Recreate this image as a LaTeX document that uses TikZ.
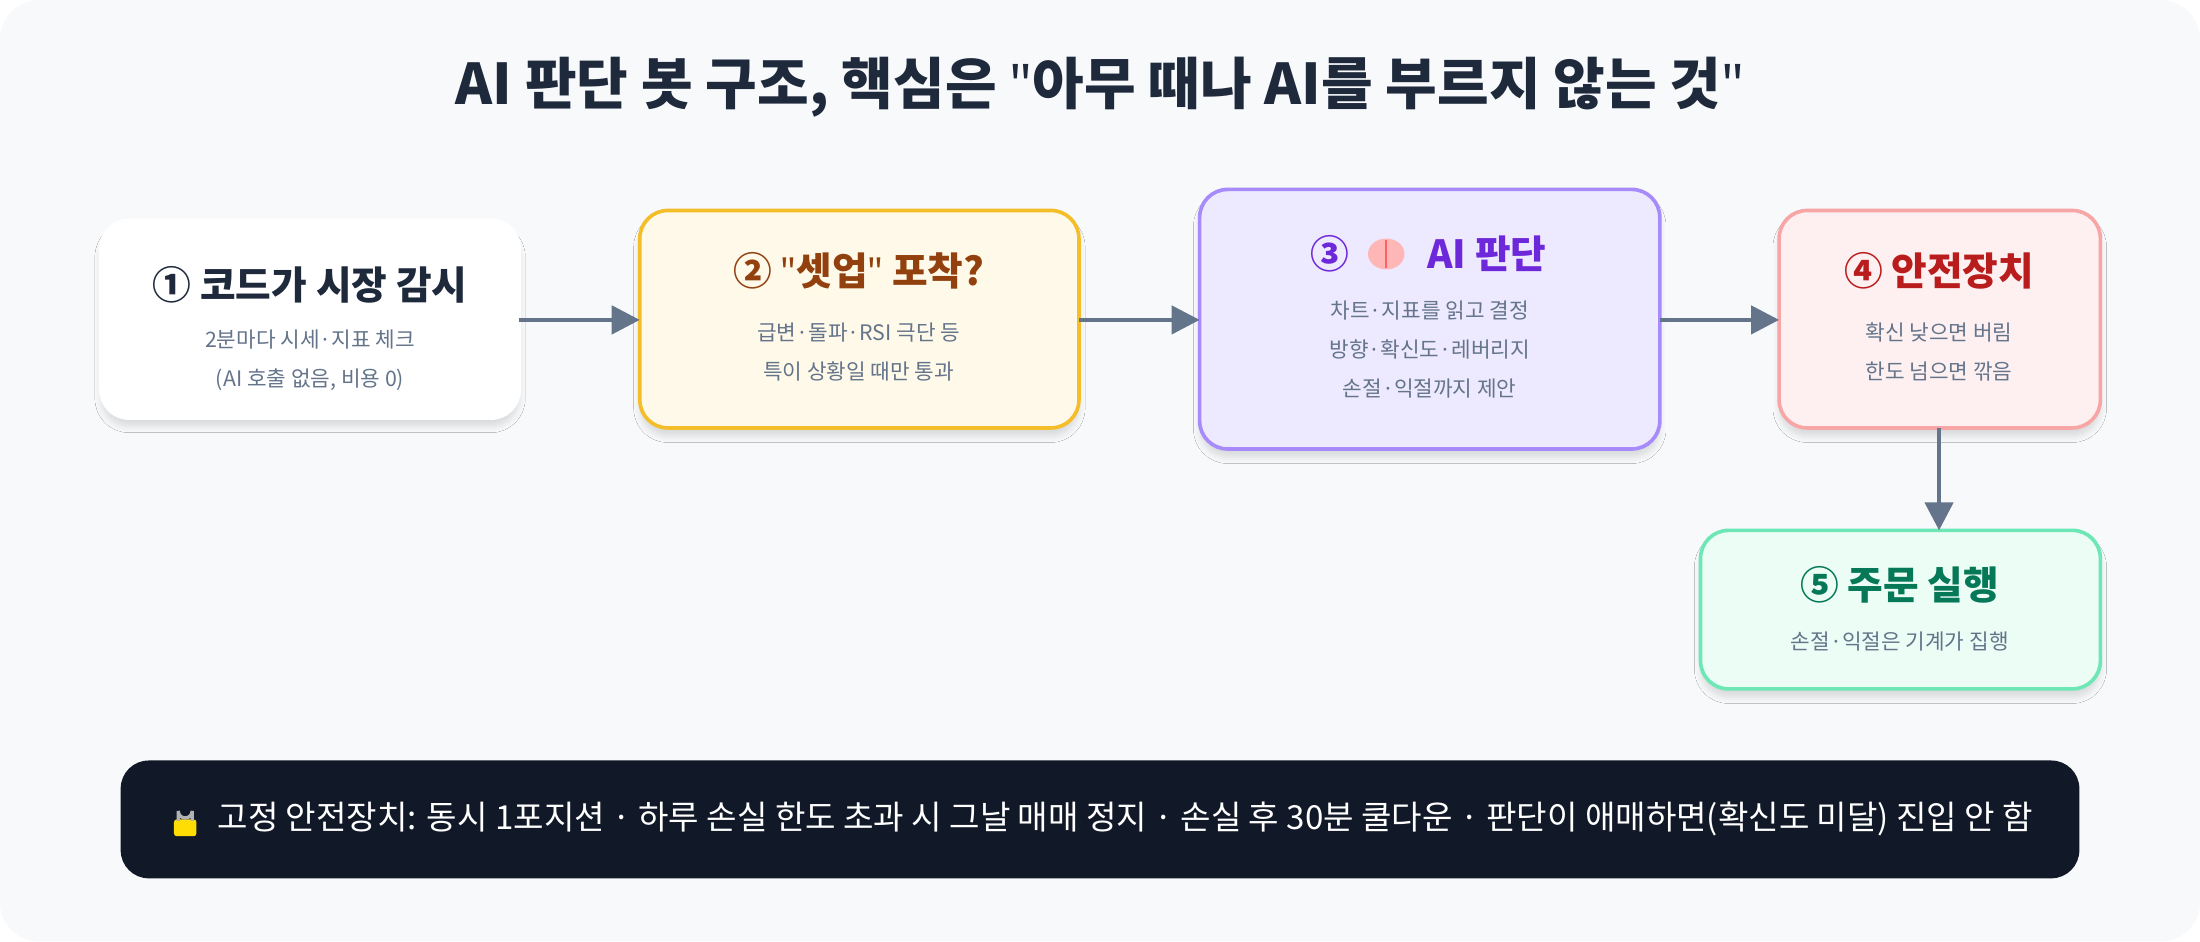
\documentclass[tikz,border=0pt]{standalone}
\usepackage{fontspec}
\setmainfont{Noto Sans CJK KR}
\newfontfamily\qf{Noto Sans}
\newcommand{\dq}{{\qf\char34}}
\usetikzlibrary{arrows.meta,shadows.blur}
\definecolor{bg}{HTML}{F7F9FB}
\definecolor{ink}{HTML}{1E293B}
\definecolor{sub}{HTML}{64748B}
\definecolor{arr}{HTML}{64748B}
\definecolor{yB}{HTML}{F4BE2A}\definecolor{yF}{HTML}{FEF9E8}\definecolor{yT}{HTML}{92400E}
\definecolor{pB}{HTML}{A78BFA}\definecolor{pF}{HTML}{EDE9FE}\definecolor{pT}{HTML}{6D28D9}
\definecolor{rB}{HTML}{F8A5A5}\definecolor{rF}{HTML}{FEF0F0}\definecolor{rT}{HTML}{B91C1C}
\definecolor{gB}{HTML}{6EE7B7}\definecolor{gF}{HTML}{ECFDF5}\definecolor{gT}{HTML}{047857}
\definecolor{dark}{HTML}{111827}
\begin{document}
\begin{tikzpicture}[x=0.5pt,y=-0.5pt,
 box/.style={rounded corners=10pt,line width=1.3pt,blur shadow={shadow blur steps=6,shadow xshift=0pt,shadow yshift=-3pt,shadow opacity=12}},
 ttl/.style={font=\fontsize{13.8}{16}\selectfont\bfseries},
 st/.style={font=\fontsize{7.6}{14}\selectfont,text=sub,align=center},
 ar/.style={draw=arr,line width=1.6pt,-{Triangle[length=10pt,width=10pt]}}]
\useasboundingbox (0,0) rectangle (1568,671);
\fill[bg,rounded corners=14pt] (0,0) rectangle (1568,671);
\node[font=\fontsize{20}{24}\selectfont\bfseries,text=ink] at (784,62) {AI 판단 봇 구조, 핵심은 \dq 아무 때나 AI를 부르지 않는 것\dq};
\draw[box,draw=white,fill=white] (72,157) rectangle (370,298);
\node[ttl,text=ink] at (221,203) {① 코드가 시장 감시};
\node[st] at (221,257) {2분마다 시세·지표 체크\\(AI 호출 없음, 비용 0)};
\draw[box,draw=yB,fill=yF] (456,150) rectangle (769,305);
\node[ttl,text=yT] at (612,193) {② \dq 셋업\dq\ 포착?};
\node[st] at (612,251) {급변·돌파·RSI 극단 등\\특이 상황일 때만 통과};
\draw[box,draw=pB,fill=pF] (855,135) rectangle (1183,320);
\node[ttl,text=pT] at (948,181) {③};
\node[ttl,text=pT,anchor=west] at (1010,181) {AI 판단};
\fill[pink!70!red!60] (988,181) ellipse (13 and 11);
\draw[red!50!pink,line width=0.6pt] (988,171)--(988,191);
\node[st] at (1019,249) {차트·지표를 읽고 결정\\방향·확신도·레버리지\\손절·익절까지 제안};
\draw[box,draw=rB,fill=rF] (1268,150) rectangle (1497,305);
\node[ttl,text=rT] at (1382,193) {④ 안전장치};
\node[st] at (1382,251) {확신 낮으면 버림\\한도 넘으면 깎음};
\draw[box,draw=gB,fill=gF] (1212,378) rectangle (1497,491);
\node[ttl,text=gT] at (1354,417) {⑤ 주문 실행};
\node[st] at (1354,457) {손절·익절은 기계가 집행};
\coordinate (a1) at (370,228); \coordinate (a2s) at (456,228);
\coordinate (a2) at (769,228); \coordinate (a3s) at (855,228);
\coordinate (a3) at (1183,228); \coordinate (a4s) at (1268,228);
\coordinate (a4) at (1382,305); \coordinate (a5s) at (1382,378);
\draw[ar] (a1)--(a2s); \draw[ar] (a2)--(a3s); \draw[ar] (a3)--(a4s); \draw[ar] (a4)--(a5s);
\fill[dark,rounded corners=10pt] (86,542) rectangle (1482,626);
\fill[yellow!80!orange,rounded corners=1pt] (124,584) rectangle (140,596);
\draw[gray!60,line width=1.2pt] (127,585) -- (127,578) arc[start angle=180,end angle=0,x radius=5,y radius=5] -- (137,585);
\node[anchor=west,text=white,font=\fontsize{11.8}{13}\selectfont] at (148,584) {고정 안전장치: 동시 1포지션 · 하루 손실 한도 초과 시 그날 매매 정지 · 손실 후 30분 쿨다운 · 판단이 애매하면(확신도 미달) 진입 안 함};
\end{tikzpicture}
\end{document}
